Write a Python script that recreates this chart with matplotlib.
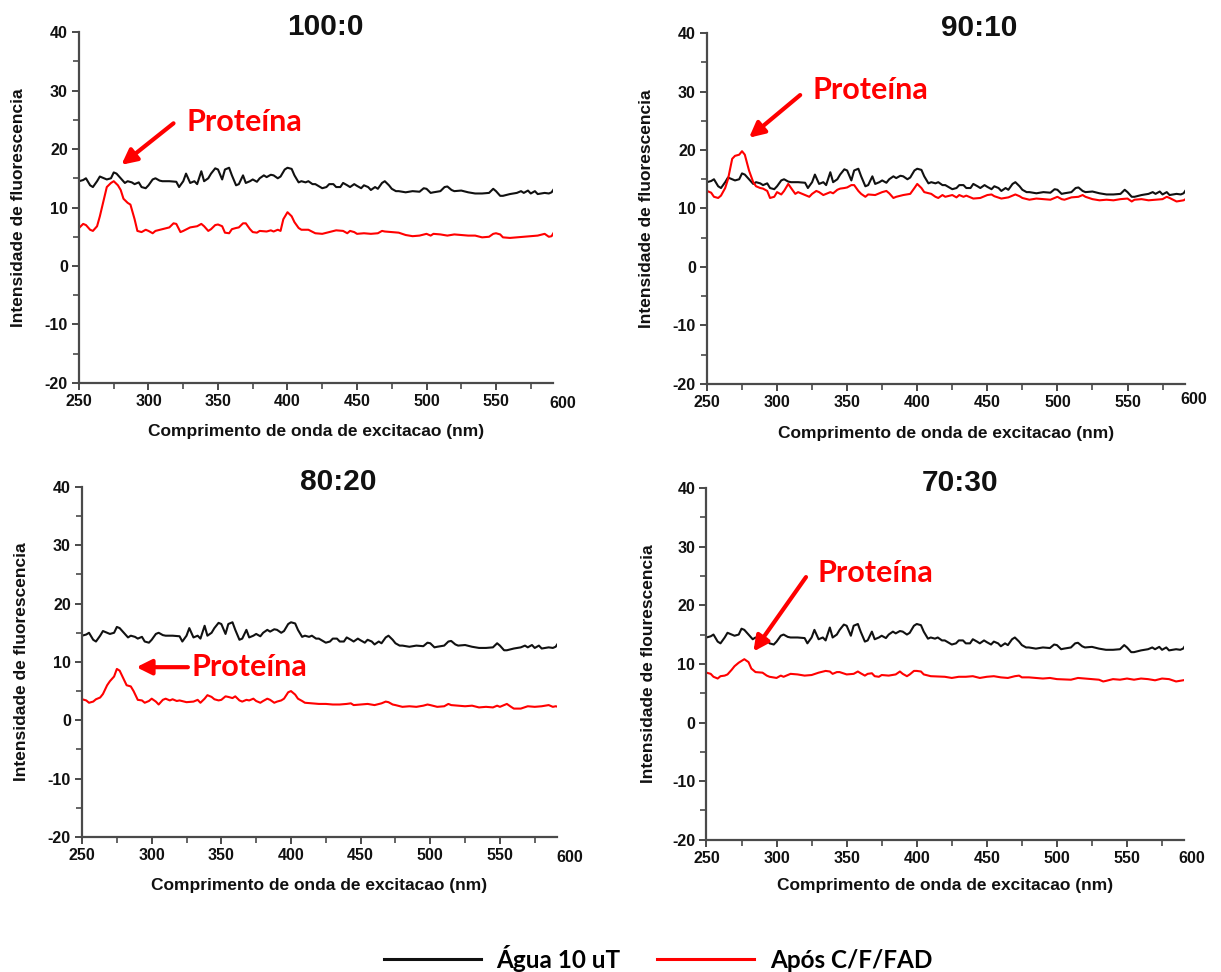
import matplotlib

matplotlib.use("Agg")
import matplotlib.pyplot as plt
from matplotlib.lines import Line2D
from matplotlib.ticker import MultipleLocator

plt.rcParams["axes.unicode_minus"] = False

# --- data (wavelength nm, fluorescence intensity) ---
agua_x = [250, 253, 255, 258, 260, 263, 265, 268, 270, 273, 275, 277, 280, 283, 285, 288, 290, 293,
          295, 298, 300, 303, 305, 308, 310, 315, 320, 322, 325, 327, 330, 333, 335, 338, 340, 343,
          345, 348, 350, 353, 355, 358, 360, 363, 365, 368, 370, 373, 375, 378, 380, 383, 385, 388,
          390, 393, 395, 398, 400, 403, 405, 408, 410, 413, 415, 418, 420, 425, 428, 430, 433, 435,
          438, 440, 443, 445, 448, 450, 453, 455, 458, 460, 463, 465, 468, 470, 473, 475, 478, 480,
          485, 490, 495, 498, 500, 503, 505, 510, 513, 515, 518, 520, 525, 530, 535, 540, 545, 548,
          550, 553, 555, 560, 565, 568, 570, 573, 575, 578, 580, 585, 588, 590, 592]
agua_y = [14.5, 14.7, 15.0, 13.8, 13.5, 14.5, 15.3, 15.0, 14.8, 15.0, 16.0, 15.8, 15.0, 14.2, 14.5,
          14.3, 14.0, 14.3, 13.5, 13.3, 13.8, 14.8, 15.0, 14.6, 14.5, 14.5, 14.4, 13.5, 14.5, 15.8,
          14.2, 14.5, 14.0, 16.2, 14.5, 15.0, 15.8, 16.7, 16.5, 14.8, 16.5, 16.8, 15.5, 13.8, 14.0,
          15.5, 14.2, 14.5, 14.8, 14.4, 15.0, 15.5, 15.2, 15.6, 15.5, 15.0, 15.3, 16.5, 16.8, 16.6,
          15.5, 14.3, 14.5, 14.3, 14.5, 14.0, 14.0, 13.3, 13.5, 14.0, 14.0, 13.5, 13.5, 14.2, 13.8,
          13.5, 14.0, 13.7, 13.3, 13.8, 13.5, 13.0, 13.5, 13.2, 14.2, 14.5, 13.8, 13.2, 12.8, 12.8,
          12.6, 12.8, 12.7, 13.3, 13.2, 12.5, 12.6, 12.8, 13.5, 13.6, 13.0, 12.8, 12.9, 12.6, 12.4,
          12.4, 12.5, 13.2, 12.8, 12.0, 12.0, 12.3, 12.5, 12.8, 12.5, 12.9, 12.4, 12.8, 12.3, 12.5,
          12.4, 12.6, 13.3]

r100_x = [250, 253, 255, 258, 260, 263, 265, 268, 270, 273, 275, 278, 280, 282, 285, 287, 290, 292,
          295, 298, 300, 303, 305, 310, 315, 318, 320, 323, 325, 330, 335, 338, 340, 343, 345, 348,
          350, 353, 355, 358, 360, 363, 365, 368, 370, 373, 375, 378, 380, 385, 388, 390, 393, 395,
          397, 400, 403, 405, 408, 410, 415, 420, 425, 430, 435, 440, 443, 445, 448, 450, 455, 460,
          465, 468, 470, 475, 480, 485, 490, 495, 500, 503, 505, 510, 515, 520, 525, 530, 535, 540,
          545, 548, 550, 553, 555, 560, 565, 570, 575, 580, 585, 588, 590, 592]
r100_y = [6.5, 7.2, 7.0, 6.2, 6.0, 6.8, 8.5, 11.5, 13.5, 14.2, 14.5, 13.8, 13.0, 11.5, 10.8, 10.5,
          8.0, 6.0, 5.8, 6.2, 6.0, 5.6, 6.0, 6.3, 6.6, 7.3, 7.2, 5.8, 6.0, 6.6, 6.8, 7.2, 6.8, 6.0,
          6.3, 7.0, 7.1, 6.8, 5.7, 5.6, 6.3, 6.5, 6.6, 7.3, 7.3, 6.3, 5.8, 5.7, 6.0, 5.9, 6.1, 5.9,
          6.2, 6.0, 8.0, 9.2, 8.5, 7.5, 6.5, 6.2, 6.2, 5.6, 5.5, 5.8, 6.1, 6.0, 5.6, 6.0, 5.8, 5.5,
          5.6, 5.5, 5.6, 6.0, 5.9, 5.8, 5.7, 5.3, 5.1, 5.2, 5.5, 5.2, 5.5, 5.4, 5.2, 5.4, 5.3, 5.2,
          5.2, 4.9, 5.0, 5.5, 5.6, 5.4, 4.9, 4.8, 4.9, 5.0, 5.1, 5.2, 5.5, 5.0, 5.1, 5.9]

r90_x = [250, 253, 255, 258, 260, 263, 265, 268, 270, 273, 275, 277, 280, 283, 285, 288, 290, 293,
         295, 298, 300, 303, 305, 308, 310, 313, 315, 318, 320, 323, 325, 328, 330, 333, 335, 338,
         340, 343, 345, 348, 350, 353, 355, 358, 360, 363, 365, 370, 375, 378, 380, 383, 385, 390,
         395, 398, 400, 403, 405, 410, 413, 415, 418, 420, 425, 428, 430, 433, 435, 440, 445, 450,
         453, 455, 460, 465, 470, 473, 475, 480, 485, 490, 495, 500, 503, 505, 510, 515, 518, 520,
         525, 530, 535, 540, 545, 550, 553, 555, 560, 565, 570, 575, 578, 580, 585, 590, 592]
r90_y = [13.0, 12.7, 12.0, 11.8, 12.2, 13.5, 15.0, 18.5, 19.0, 19.2, 19.8, 19.2, 16.5, 14.5, 13.8,
         13.5, 13.4, 13.0, 11.8, 12.0, 12.8, 12.4, 13.0, 14.2, 13.5, 12.5, 12.8, 12.5, 12.3, 12.0,
         12.5, 13.0, 12.8, 12.3, 12.5, 12.8, 12.6, 13.2, 13.4, 13.5, 13.6, 14.0, 14.0, 13.0, 12.5,
         12.0, 12.4, 12.3, 12.8, 13.0, 12.6, 11.8, 12.0, 12.3, 12.5, 13.5, 14.2, 13.5, 12.8, 12.5,
         12.0, 11.8, 12.3, 12.0, 12.3, 11.9, 12.3, 12.0, 12.2, 11.7, 11.8, 12.3, 12.4, 12.1, 11.7,
         11.9, 12.4, 12.1, 11.8, 11.5, 11.7, 11.6, 11.5, 12.0, 11.6, 11.5, 11.9, 12.0, 12.3, 12.0,
         11.6, 11.4, 11.5, 11.4, 11.6, 11.7, 11.2, 11.5, 11.6, 11.4, 11.5, 11.6, 12.0, 11.8, 11.2,
         11.4, 11.7]

r80_x = [250, 253, 255, 258, 260, 263, 265, 268, 270, 273, 275, 277, 280, 282, 285, 287, 290, 293,
         295, 298, 300, 303, 305, 308, 310, 313, 315, 318, 320, 325, 330, 333, 335, 338, 340, 343,
         345, 348, 350, 353, 355, 358, 360, 363, 365, 368, 370, 373, 375, 378, 380, 383, 385, 388,
         390, 393, 395, 398, 400, 403, 405, 408, 410, 415, 420, 425, 430, 435, 440, 443, 445, 450,
         455, 460, 465, 468, 470, 473, 475, 480, 485, 490, 495, 498, 500, 505, 510, 513, 515, 520,
         525, 530, 535, 540, 545, 548, 550, 555, 558, 560, 565, 570, 575, 580, 585, 588, 590, 592]
r80_y = [3.6, 3.4, 3.0, 3.2, 3.6, 3.9, 4.5, 6.0, 6.7, 7.5, 8.8, 8.5, 7.0, 6.0, 5.8, 5.0, 3.5, 3.4,
         3.0, 3.3, 3.7, 3.2, 2.7, 3.5, 3.7, 3.4, 3.6, 3.3, 3.4, 3.1, 3.2, 3.5, 3.0, 3.7, 4.3, 4.0,
         3.6, 3.4, 3.5, 4.1, 4.0, 3.8, 4.1, 3.4, 3.2, 3.5, 3.4, 3.7, 3.3, 3.0, 3.3, 3.7, 3.5, 3.0,
         3.2, 3.4, 3.7, 4.8, 5.0, 4.4, 3.7, 3.3, 3.0, 2.9, 2.8, 2.8, 2.7, 2.7, 2.8, 2.9, 2.6, 2.7,
         2.8, 2.6, 2.9, 3.2, 3.1, 2.7, 2.6, 2.3, 2.4, 2.3, 2.5, 2.7, 2.6, 2.3, 2.4, 2.8, 2.6, 2.5,
         2.4, 2.5, 2.2, 2.3, 2.2, 2.5, 2.3, 2.8, 2.3, 2.0, 2.0, 2.4, 2.3, 2.4, 2.6, 2.3, 2.4, 2.3]

r70_x = [250, 253, 255, 258, 260, 263, 265, 268, 270, 273, 275, 277, 280, 282, 285, 290, 293, 295,
         300, 303, 305, 310, 315, 320, 325, 330, 335, 338, 340, 343, 345, 350, 355, 358, 360, 363,
         365, 368, 370, 373, 375, 380, 385, 388, 390, 393, 395, 398, 400, 403, 405, 410, 420, 425,
         430, 435, 440, 445, 450, 455, 460, 465, 470, 473, 475, 480, 490, 495, 500, 510, 515, 520,
         525, 530, 533, 535, 540, 545, 550, 555, 560, 565, 570, 575, 580, 585, 590, 592]
r70_y = [8.5, 8.3, 7.8, 7.5, 7.9, 8.0, 8.2, 9.0, 9.6, 10.2, 10.5, 10.8, 10.3, 9.2, 8.6, 8.5, 8.0,
         7.8, 7.6, 8.0, 7.8, 8.3, 8.2, 8.0, 8.1, 8.5, 8.8, 8.7, 8.3, 8.6, 8.6, 8.2, 8.3, 8.7, 8.4,
         8.0, 8.3, 8.4, 7.9, 7.8, 8.1, 8.0, 8.2, 8.7, 8.3, 7.9, 8.2, 8.8, 8.8, 8.7, 8.2, 7.9, 7.8,
         7.6, 7.8, 7.8, 7.9, 7.6, 7.8, 7.9, 7.7, 7.6, 7.9, 8.0, 7.7, 7.7, 7.5, 7.6, 7.4, 7.3, 7.6,
         7.5, 7.4, 7.3, 7.0, 7.1, 7.4, 7.3, 7.5, 7.3, 7.5, 7.4, 7.2, 7.5, 7.4, 7.0, 7.2, 7.3]

titles = ["100:0", "90:10", "80:20", "70:30"]
ylabels = ["Intensidade de fluorescencia", "Intensidade de fluorescencia",
           "Intensidade de fluorescencia", "Intensidade de flourescencia"]
xlabel = "Comprimento de onda de excitacao (nm)"
legend_labels = ["Água 10 uT", "Após C/F/FAD"]

BLACK = "#111111"
RED = "#ff0000"
AXIS = "#4a4a4a"
TICK_FONT = "Liberation Sans"
NOTE_FONT = "Lato"

fig = plt.figure(figsize=(12.21, 9.72), dpi=100)

# [left, bottom, width, height] of each panel in figure fraction
boxes = [
    [0.0647, 0.606, 0.3882, 0.361],
    [0.5790, 0.605, 0.3915, 0.361],
    [0.0672, 0.139, 0.3890, 0.360],
    [0.5786, 0.136, 0.3915, 0.362],
]
reds = [(r100_x, r100_y), (r90_x, r90_y), (r80_x, r80_y), (r70_x, r70_y)]
# (tip, tail, text-left position) of the "Proteína" arrow, data coords
notes = [
    ((280.5, 17.3), (318, 24.4), (327, 24.6)),
    ((280, 22.1), (316.5, 29.4), (325, 30.3)),
    ((289, 9.1), (326, 9.1), (328.5, 9.1)),
    ((283.5, 12.1), (321, 24.8), (329, 25.5)),
]
title_x = [0.52, 0.57, 0.54, 0.53]
label600 = [(597.8, -15), (597, -11.5), (600, -15), (596, -13.5)]
xlabel_y = [-0.137, -0.14, -0.14, -0.13]
ylabel_x = [-0.127, -0.126, -0.128, -0.122]

for i, box in enumerate(boxes):
    ax = fig.add_axes(box)
    ax.plot(agua_x, agua_y, color=BLACK, lw=1.5)
    rx, ry = reds[i]
    ax.plot(rx, ry, color=RED, lw=1.5)

    ax.set_xlim(250, 591)
    ax.set_ylim(-20, 40)
    ax.set_xticks([250, 300, 350, 400, 450, 500, 550])
    ax.set_yticks([-20, -10, 0, 10, 20, 30, 40])
    ax.xaxis.set_minor_locator(MultipleLocator(25))
    ax.yaxis.set_minor_locator(MultipleLocator(5))
    for side in ("top", "right"):
        ax.spines[side].set_visible(False)
    for side in ("left", "bottom"):
        ax.spines[side].set_color(AXIS)
        ax.spines[side].set_linewidth(1.6)
    ax.tick_params(which="major", direction="out", length=5, width=1.4, color=AXIS, pad=3)
    ax.tick_params(which="minor", direction="out", length=4, width=1.2, color=AXIS)
    for lab in ax.get_xticklabels() + ax.get_yticklabels():
        lab.set_fontfamily(TICK_FONT)
        lab.set_fontweight("bold")
        lab.set_fontsize(11.5)
        lab.set_color("#111111")

    # the last "600" label sits just past the axis end
    x6, dy = label600[i]
    ax.annotate("600", xy=(x6, 0), xycoords=("data", "axes fraction"),
                xytext=(0, dy), textcoords="offset points", ha="center", va="center",
                fontfamily=TICK_FONT, fontweight="bold", fontsize=11.5, color="#111111",
                annotation_clip=False)

    ax.text(title_x[i], 1.015, titles[i], transform=ax.transAxes, ha="center", va="center",
            fontfamily=TICK_FONT, fontweight="bold", fontsize=21.5, color="#111111")
    ax.text(0.5, xlabel_y[i], xlabel, transform=ax.transAxes, ha="center", va="center",
            fontfamily=TICK_FONT, fontweight="bold", fontsize=12.5, color="#111111")
    ax.text(ylabel_x[i], 0.5, ylabels[i], transform=ax.transAxes, ha="center", va="center",
            rotation=90, fontfamily=TICK_FONT, fontweight="bold", fontsize=12.5, color="#111111")

    tip, tail, txt = notes[i]
    ax.annotate("", xy=tip, xytext=tail,
                arrowprops=dict(arrowstyle="-|>,head_length=0.9,head_width=0.45",
                                color=RED, lw=3, shrinkA=0, shrinkB=0))
    ax.text(txt[0], txt[1], "Proteína", ha="left", va="center", color=RED,
            fontfamily=NOTE_FONT, fontweight="bold", fontsize=22)

handles = [Line2D([], [], color=BLACK, lw=2.2), Line2D([], [], color=RED, lw=2.2)]
fig.legend(handles, legend_labels, loc="center", bbox_to_anchor=(0.539, 0.0144), ncol=2,
           frameon=False, handlelength=4.0, handletextpad=0.65, columnspacing=1.5,
           prop={"family": NOTE_FONT, "weight": "bold", "size": 17.5})

fig.savefig("out.png", dpi=100)
plt.close(fig)
